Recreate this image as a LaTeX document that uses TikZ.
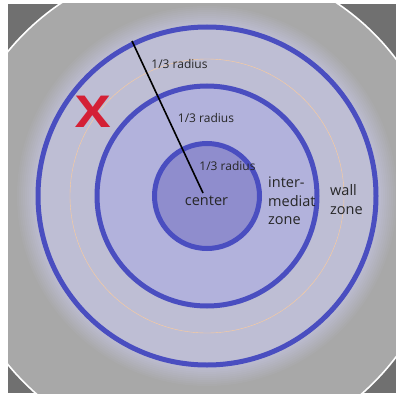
\documentclass[tikz,border=0pt]{standalone}
\usepackage{fontspec}
\setmainfont{Open Sans}
\begin{document}
\begin{tikzpicture}[x=1pt,y=-1pt,
  ring/.style={draw=ringblue,line width=5pt},
  lbl/.style={inner sep=0pt,font=\fontsize{12}{14}\selectfont,text=black!85},
  zonelbl/.style={inner sep=0pt,align=left,anchor=west,font=\fontsize{14.5}{18.5}\selectfont,text=black!85}]
\definecolor{darkbg}{HTML}{707070}
\definecolor{plate}{HTML}{A8A8A8}
\definecolor{wallfill}{HTML}{BEBED4}
\definecolor{midfill}{HTML}{B2B2DC}
\definecolor{cenfill}{HTML}{8F8DCD}
\definecolor{ringblue}{HTML}{4A4EC0}
\definecolor{xred}{HTML}{D42035}
\useasboundingbox (0,0) rectangle (396,396);
\fill[white] (0,0) rectangle (396,396);
\begin{scope}
\clip (8,4) rectangle (396,393);
\fill[darkbg] (8,4) rectangle (396,393);
\fill[plate] (199,208) circle[radius=247];
\draw[white,line width=1.6pt] (199,208) circle[radius=247];
\end{scope}
\coordinate (c) at (207,196);
\foreach \r in {192,190,...,170}{
  \pgfmathtruncatemacro{\p}{100-(\r-170)*100/22}
  \fill[wallfill!\p!plate] (c) circle[radius=\r];
}
\draw[orange!40!white,line width=0.4pt] (c) circle[radius=137];
\fill[midfill] (c) circle[radius=111];
\fill[cenfill] (c) circle[radius=53];
\draw[ring] (c) circle[radius=169];
\draw[ring] (c) circle[radius=110];
\draw[ring] (c) circle[radius=52.5];
\coordinate (rimpt) at (132,41);
\coordinate (hub) at (203,193);
\draw[black,line width=1.6pt] (rimpt) -- (hub);
\node[lbl] (r1) at (179.5,64) {1/3 radius};
\node[lbl] (r2) at (206,118) {1/3 radius};
\node[lbl] (r3) at (227.5,166) {1/3 radius};
\node[inner sep=0pt,font=\fontsize{14.5}{16}\selectfont,text=black!85] (cen) at (206.5,201) {center};
\node[zonelbl] (mid) at (268,201) {inter-\\mediat\\zone};
\node[zonelbl] (wall) at (330,199.5) {wall\\zone};
\node[inner sep=0pt,text=xred,font=\bfseries\fontsize{44}{44}\selectfont,xscale=1.2] (x) at (93,112) {X};
\end{tikzpicture}
\end{document}
